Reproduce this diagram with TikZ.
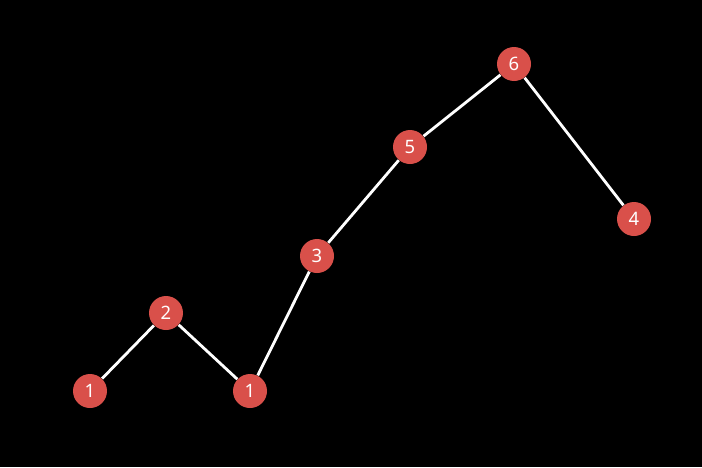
\documentclass[tikz,border=0pt]{standalone}
\usepackage{fontspec}
\setmainfont{Noto Sans}
\definecolor{nodered}{RGB}{217,80,74}
\begin{document}
\begin{tikzpicture}[x=0.02cm, y=-0.02cm]
			\tikzstyle{vertex}  = [circle, minimum size=0.68cm, inner sep=0pt, fill=nodered, text=white, font=\fontsize{10.5}{12}\selectfont]
			\tikzstyle{link}  = [draw=white, line width=1.6pt]

			\fill[black] (0, 0) rectangle (702, 467);
			\useasboundingbox (0, 0) rectangle (702, 467);

			\foreach \name/\text/\x/\y in {a/1/90/391, b/2/166/313, c/1/250/391, d/3/317/256, e/5/410/147, f/6/514/64, g/4/634/219}
				\node[vertex] (\name) at (\x, \y) {\text};

			\foreach \from/\to in {a/b, b/c, c/d, d/e, e/f, f/g}
				\path[link] (\from) -- (\to);

		\end{tikzpicture}
\end{document}
